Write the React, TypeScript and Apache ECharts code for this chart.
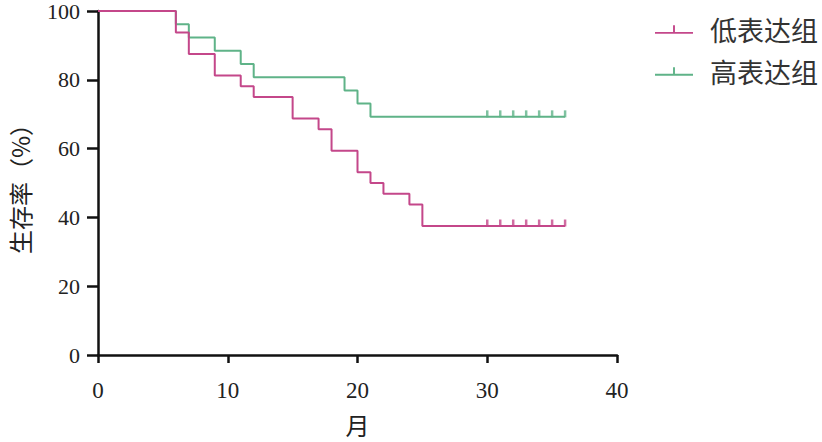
import React, { useEffect, useRef } from "react";
import * as echarts from "echarts";

const lowTimes = [0, 6, 7, 9, 11, 12, 15, 17, 18, 20, 21, 22, 24, 25, 36];
const lowSurv = [100, 93.75, 87.5, 81.25, 78.125, 75, 68.75, 65.625, 59.375, 53.125, 50, 46.875, 43.75, 37.5, 37.5];
const highTimes = [0, 6, 7, 9, 11, 12, 19, 20, 21, 36];
const highSurv = [100, 96.15, 92.31, 88.46, 84.62, 80.77, 76.92, 73.08, 69.23, 69.23];
const censorTimes = [30, 31, 32, 33, 34, 35, 36];
const lowCensorSurv = 37.5;
const highCensorSurv = 69.23;
const xTicks = [0, 10, 20, 30, 40];

const PINK = "#c4478a";
const GREEN = "#5fb388";
const legendIcon = "path://M0,8h40v2h-40z M19,1h2v7h-2z";

export default function App() {
  const ref = useRef<HTMLDivElement>(null);
  useEffect(() => {
    if (!ref.current) return;
    const chart = echarts.init(ref.current, undefined, { renderer: "svg" });
    const num = "'Liberation Serif', 'DejaVu Serif', serif";
    const cjk = "'Noto Sans CJK SC', sans-serif";
    chart.setOption({
      animation: false,
      backgroundColor: "#ffffff",
      grid: { left: 98, right: 205, top: 11, bottom: 87, containLabel: false, outerBoundsMode: "none" },
      legend: {
        left: 650,
        top: 11,
        orient: "vertical",
        itemWidth: 38,
        itemHeight: 10,
        itemGap: 15,
        textStyle: { fontFamily: cjk, fontSize: 27, color: "#333", padding: [0, 0, 0, 12] },
        data: [
          { name: "低表达组", icon: legendIcon, itemStyle: { color: PINK } },
          { name: "高表达组", icon: legendIcon, itemStyle: { color: GREEN } },
        ],
      },
      xAxis: {
        type: "value",
        min: 0,
        max: 40,
        interval: 10,
        name: "月",
        nameLocation: "middle",
        nameGap: 57,
        nameTextStyle: { fontFamily: cjk, fontSize: 24, lineHeight: 24, color: "#222" },
        axisLine: { lineStyle: { color: "#111", width: 2.5 } },
        axisTick: { show: true, length: 8, lineStyle: { color: "#111", width: 2.5 } },
        axisLabel: { fontFamily: num, fontSize: 23, lineHeight: 20, color: "#222", margin: 25, customValues: xTicks },
        splitLine: { show: false },
      },
      yAxis: {
        type: "value",
        min: 0,
        max: 100,
        interval: 20,
        name: "生存率（%）",
        nameLocation: "middle",
        nameGap: 67,
        nameRotate: 90,
        nameTextStyle: { fontFamily: cjk, fontSize: 24, lineHeight: 24, color: "#222" },
        axisLine: { show: true, lineStyle: { color: "#111", width: 2.5 } },
        axisTick: { show: true, length: 11, lineStyle: { color: "#111", width: 2.5 } },
        axisLabel: { fontFamily: num, fontSize: 22, lineHeight: 18, color: "#222", margin: 18 },
        splitLine: { show: false },
      },
      series: [
        {
          name: "低表达组",
          type: "line",
          step: "end",
          showSymbol: false,
          color: PINK,
          lineStyle: { color: PINK, width: 2 },
          data: lowTimes.map((t, i) => [t, lowSurv[i]]),
          z: 3,
        },
        {
          name: "高表达组",
          type: "line",
          step: "end",
          showSymbol: false,
          color: GREEN,
          lineStyle: { color: GREEN, width: 2 },
          data: highTimes.map((t, i) => [t, highSurv[i]]),
          z: 2,
        },
        {
          name: "低表达组删失",
          type: "scatter",
          symbol: "rect",
          symbolSize: [2.5, 7],
          symbolOffset: [0, -3],
          itemStyle: { color: PINK },
          data: censorTimes.map((t) => [t, lowCensorSurv]),
          z: 4,
        },
        {
          name: "高表达组删失",
          type: "scatter",
          symbol: "rect",
          symbolSize: [2.5, 7],
          symbolOffset: [0, -3],
          itemStyle: { color: GREEN },
          data: censorTimes.map((t) => [t, highCensorSurv]),
          z: 4,
        },
      ],
    });
    return () => chart.dispose();
  }, []);
  return <div ref={ref} style={{ width: 822, height: 442, position: "absolute", left: 0, top: 0 }} />;
}
